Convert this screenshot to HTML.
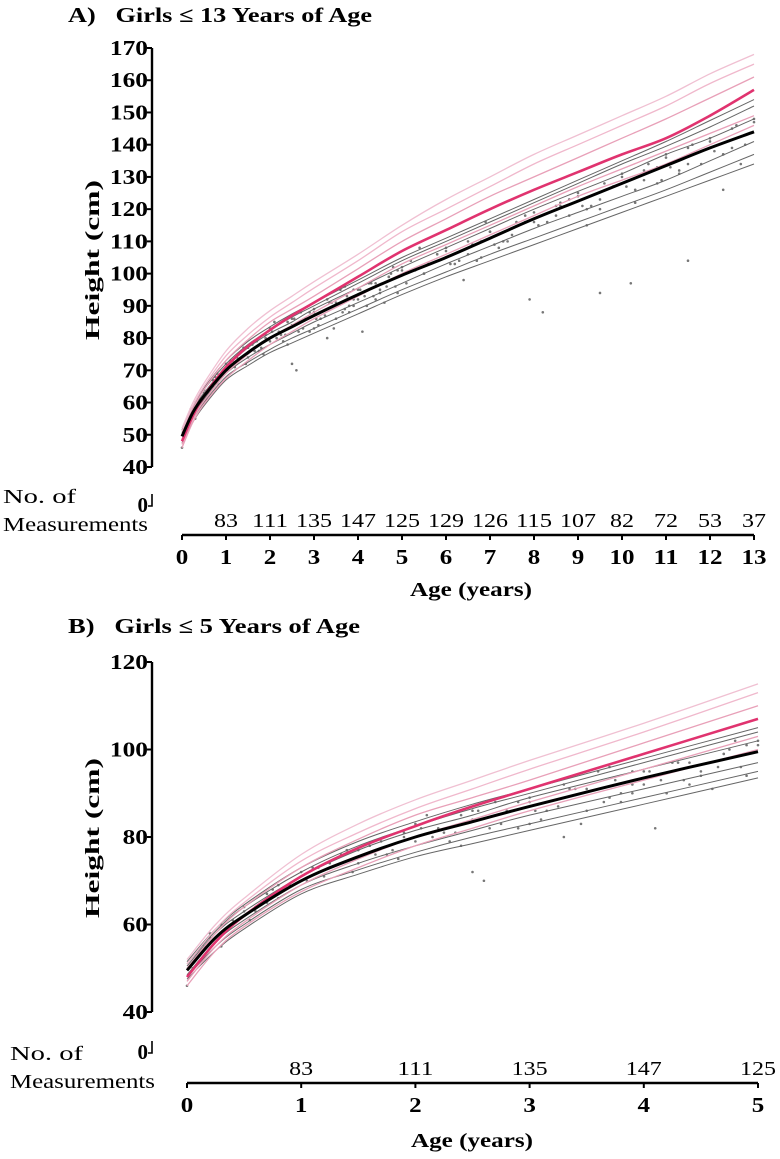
<!DOCTYPE html>
<html><head><meta charset="utf-8"><style>
body{margin:0;background:#fff}
svg{display:block}
text{font-family:"Liberation Serif",serif;fill:#000}
.b{font-weight:bold}
</style></head><body>
<svg id="s" width="780" height="1159" viewBox="0 0 780 1159">
<text x="68" y="22" class="b" font-size="21" textLength="304" lengthAdjust="spacingAndGlyphs">A)&#160;&#160; Girls ≤ 13 Years of Age</text>
<text x="68" y="633" class="b" font-size="21" textLength="292" lengthAdjust="spacingAndGlyphs">B)&#160;&#160; Girls ≤ 5 Years of Age</text>
<text transform="translate(99,260) rotate(-90)" text-anchor="middle" class="b" font-size="20" textLength="160" lengthAdjust="spacingAndGlyphs">Height (cm)</text>
<text transform="translate(99,838) rotate(-90)" text-anchor="middle" class="b" font-size="20" textLength="160" lengthAdjust="spacingAndGlyphs">Height (cm)</text>
<text x="3" y="503" font-size="20" textLength="73" lengthAdjust="spacingAndGlyphs">No. of</text>
<text x="3" y="531" font-size="20" textLength="145" lengthAdjust="spacingAndGlyphs">Measurements</text>
<text x="10" y="1060" font-size="20" textLength="73" lengthAdjust="spacingAndGlyphs">No. of</text>
<text x="10" y="1088" font-size="20" textLength="145" lengthAdjust="spacingAndGlyphs">Measurements</text>
<text x="471" y="596" text-anchor="middle" class="b" font-size="20" textLength="122" lengthAdjust="spacingAndGlyphs">Age (years)</text>
<text x="472" y="1147" text-anchor="middle" class="b" font-size="20" textLength="122" lengthAdjust="spacingAndGlyphs">Age (years)</text>
</svg>
<script>
const ages=[0,0.25,0.5,1,1.5,2,2.5,3,4,5,6,7,8,9,10,11,12,13];
const median=[49.5,57,62,70,75.5,80,83.5,87,93.5,99.5,105,111,117,122.5,128,133.5,139,144];
const pinkMain=[48,56,62,71,77.5,82.5,87,91,99,107,113.5,120,126,131.5,137,142,149,157];
const pinkA=[52,60,66,76,83,88.5,93,97.5,106,115,123,130,137,143,149,155,162,168];
const pinkB=[51,59,65,74.5,81,86.5,91,95.5,104,113,120,127,134,140,146,152,159,165];
const pinkC=[50,58,64,73,79.5,85,89,93,101.5,110,117,124,130,136,142,148,154.5,161];
const pinkD=[47,55,60.5,69,75,80,84,88,95.5,103,109,115,121,127,132.5,138,143.5,149];
const pinkE=[46,54,59.5,67.5,73,78,82,86,93,100,106,112,118,124,129,134,140,146];
const gray1=[51.5,59,64.5,73,79,83.5,87.5,91,98,105,111,117,123,129,135,141,147.5,154];
const gray2=[51,58.5,64,72,78,82.5,86.5,90,97,104,110,116,122,128,134,139.5,145.5,152];
const gray3=[50.5,58,63,71,77,81.5,85,89,95.5,102,108,114,120,125.5,131,137,142,148];
const gray4=[48.5,56,61,69,74,78,81.5,85,91,97,103,108.5,114,119,124,129,135,141];
const gray5=[48,55,60,68,72.5,76.5,80,83,89,95,100.5,106,111,116,121,126,131.5,137];
const gray6=[47.5,54,59,67,71.5,75.5,78.5,81.5,87.5,93.5,99,104,109,114,119,124,129,134];
const ptAge=[0,0.05,0.1,0.15,0.2,0.3,0.4,0.5,0.6,0.7,0.8,0.9,1,1.1,1.2,1.3,1.5,1.6,1.8,1.9,2,2.2,2.4,2.5,2.6,2.8,2.9,3,3.1,3.3,3.5,3.6,3.8,3.9,4,4.2,4.3,4.5,4.7,4.8,5,5.2,5.5,5.8,6,6.2,6.5,6.8,7,7.2,7.5,7.8,8,8.2,8.5,8.8,9,9.2,9.5,9.8,10,10.2,10.5,10.8,11,11.3,11.5,11.8,12,12.3,12.5,12.8,13,2.5,3.3,4.1,7.9,9.2,10.3,11.5,12.3,0.3,1.4,2.1,3.7,4.6,6.4,8.6,5.4,6.9,
0.2,0.4,0.6,0.8,1.0,1.25,1.5,1.75,2,2.25,2.5,2.75,3,3.25,3.5,3.75,4,4.25,4.5,4.75,5,5.5,6,6.5,7,7.5,8,8.5,9,9.5,10,10.5,11,11.5,12,12.5,13,
0.3,0.5,0.7,0.9,1.15,1.4,1.65,1.9,2.15,2.4,2.65,2.9,3.15,3.4,3.65,3.9,4.15,4.4,4.65,4.9,5.3,5.8,6.3,6.8,7.3,7.8,8.3,8.8,9.3,9.8,10.3,10.8,11.3,11.8,12.3,12.8,
0.35,0.55,0.75,1.05,1.35,1.7,2.05,2.35,2.7,3.05,3.35,3.7,4.05,4.35,4.7,5.1,5.6,6.1,6.6,7.1,7.6,8.1,8.6,9.1,9.6,10.1,10.6,11.1,11.6,12.1,12.6,
1.45,1.85,2.3,2.55,3.45,3.8,4.4,4.85,6.7,7.4,9.5,10.9,12.7,3.0,3.9,4.9];
const ptHt=[46,50,53,55,57,58,60,63,64,67,66,69,70,73,71,75,74,78,77,80,79,82,78,84,70,86,82,88,84,92,86,95,88,92,95,90,97,94,99,102,101,104,100,106,107,103,110,105,113,108,114,118,116,88,121,118,124,120,94,127,130,97,132,128,136,131,139,134,141,137,145,140,148,72,80,82,92,115,122,104,126,55,77,85,96,91,98,122,108,116,
58,61,63,69,72,74,77,76,83,81,86,83,89,87,91,93,92,97,95,100,102,100,108,106,113,112,119,118,125,123,131,129,137,134,142,139,147,
60,64,65,69,73,77,76,81,80,85,82,88,86,91,88,95,93,97,96,101,101,106,104,110,110,116,116,123,121,127,126,133,132,138,137,143,
59,61,68,70,76,79,82,81,88,86,91,89,95,93,99,97,103,103,109,109,116,115,121,121,128,127,134,133,140,138,146,
72,75,79,86,83,90,92,96,104,110,120,129,134,83,90,94];
const countYearsA=[1,2,3,4,5,6,7,8,9,10,11,12,13];
const countsA=[83,111,135,147,125,129,126,115,107,82,72,53,37];
const countYearsB=[1,2,3,4,5];
const countsB=[83,111,135,147,125];
const yTicksA=[40,50,60,70,80,90,100,110,120,130,140,150,160,170];
const yTicksB=[40,60,80,100,120];

const svg=document.getElementById('s');
const NS='http://www.w3.org/2000/svg';
function mk(tag,attrs,parent){const e=document.createElementNS(NS,tag);for(const k in attrs)e.setAttribute(k,attrs[k]);(parent||svg).appendChild(e);return e;}
function smooth(pts){let d='M'+pts[0][0].toFixed(1)+','+pts[0][1].toFixed(1);for(let i=0;i<pts.length-1;i++){const p0=pts[i-1]||pts[i],p1=pts[i],p2=pts[i+1],p3=pts[i+2]||p2;const c1=[p1[0]+(p2[0]-p0[0])/6,p1[1]+(p2[1]-p0[1])/6],c2=[p2[0]-(p3[0]-p1[0])/6,p2[1]-(p3[1]-p1[1])/6];d+='C'+c1[0].toFixed(1)+','+c1[1].toFixed(1)+' '+c2[0].toFixed(1)+','+c2[1].toFixed(1)+' '+p2[0].toFixed(1)+','+p2[1].toFixed(1);}return d;}

function panel(cfg){
  const g=mk('g',{});
  
  
  const X=a=>cfg.x0+a*cfg.px, Y=v=>cfg.yTop+(cfg.vTop-v)*cfg.py;
  const ya=mk('line',{x1:cfg.ax,y1:Y(cfg.vTop),x2:cfg.ax,y2:Y(cfg.vBot),stroke:'#000','stroke-width':2.4},g);
  
  
  cfg.yt.forEach(v=>{
    const t=mk('line',{x1:cfg.ax-5,y1:Y(v),x2:cfg.ax,y2:Y(v),stroke:'#000','stroke-width':2},g);
    
    
    const s=String(v);
    const l=mk('text',{x:cfg.ax-4,y:Y(v)+7,'text-anchor':'end','font-size':21,'font-weight':'bold',textLength:s.length*12.7,lengthAdjust:'spacingAndGlyphs'},g);
    l.textContent=s;
    
    
  });
  const z=mk('text',{x:cfg.ax-4,y:cfg.zy+7,'text-anchor':'end','font-size':21,'font-weight':'bold'},g);
  z.textContent='0';
  
  
  const j=mk('path',{d:`M${cfg.ax},${cfg.zy-11}V${cfg.zy+1}H${cfg.ax-4}`,fill:'none',stroke:'#000','stroke-width':1.6},g);
  
  
  const xa=mk('line',{x1:X(0),y1:cfg.xy,x2:X(cfg.amax),y2:cfg.xy,stroke:'#000','stroke-width':2.4},g);
  
  
  for(let a=0;a<=cfg.amax;a++){
    const t=mk('line',{x1:X(a),y1:cfg.xy,x2:X(a),y2:cfg.xy+5,stroke:'#000','stroke-width':2},g);
    
    
    const s=String(a);
    const l=mk('text',{x:X(a),y:cfg.xy+29,'text-anchor':'middle','font-size':21,'font-weight':'bold',textLength:s.length*12.5,lengthAdjust:'spacingAndGlyphs'},g);
    l.textContent=s;
    
    
  }
  cfg.cy.forEach((a,i)=>{
    const s=String(cfg.cv[i]);
    const l=mk('text',{x:Math.min(X(a),cfg.cmax),y:cfg.xy-8,'text-anchor':'middle','font-size':20,textLength:s.length*12,lengthAdjust:'spacingAndGlyphs'},g);
    l.textContent=s;
    
    
  });
  ptAge.forEach((a,i)=>{
    if(a>cfg.amax)return;
    const c=mk('circle',{cx:X(a),cy:Y(ptHt[i]),r:1.3,fill:'#777'},g);
    
    
  });
  const curves=[[gray6,'#666',1,'gray-curve'],[gray5,'#666',1,'gray-curve'],[gray4,'#666',1,'gray-curve'],[gray3,'#666',1,'gray-curve'],[gray2,'#666',1,'gray-curve'],[gray1,'#666',1,'gray-curve'],
    [pinkE,'#e8a0b8',1.3,'pink-curve'],[pinkD,'#e8a0b8',1.3,'pink-curve'],[pinkC,'#e8a0b8',1.3,'pink-curve'],[pinkB,'#f0b8cc',1.3,'pink-curve'],[pinkA,'#f0c0d2',1.3,'pink-curve'],
    [pinkMain,'#e0336f',2.6,'pink-reference-median'],[median,'#000',3,'study-median-curve']];
  curves.forEach(([arr,col,w,nm])=>{
    const pts=[];ages.forEach((a,i)=>{if(a<=cfg.amax)pts.push([X(a),Y(arr[i])]);});
    const p=mk('path',{d:smooth(pts),fill:'none',stroke:col,'stroke-width':w},g);
    
    
  });
}
panel({name:'panel-a-chart',x0:182,px:44,yTop:48,vTop:170,vBot:40,py:3.223,ax:152,yt:yTicksA,zy:505,xy:535,amax:13,cy:countYearsA,cv:countsA,cmax:760});
panel({name:'panel-b-chart',x0:187,px:114.2,yTop:662,vTop:120,vBot:40,py:4.375,ax:152,yt:yTicksB,zy:1052,xy:1083,amax:5,cy:countYearsB,cv:countsB,cmax:760});
</script>
</body></html>
